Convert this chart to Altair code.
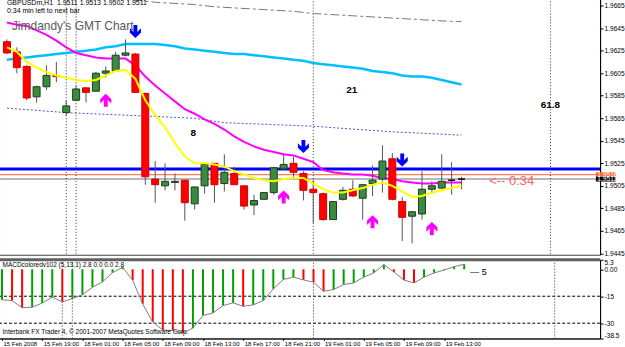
import altair as alt
import pandas as pd

# ---------------- data ----------------
opens  = [1.9633, 1.9624, 1.9611, 1.9584, 1.9593, 1.9603, 1.9570, 1.9581, 1.9592, 1.9589,
          1.9605, 1.9607, 1.9621, 1.9622, 1.9587, 1.9511, 1.9505, 1.9508, 1.9510, 1.9489,
          1.9505, 1.9525, 1.9507, 1.9516, 1.9505, 1.9488, 1.9493, 1.9499, 1.9520, 1.9525,
          1.9516, 1.9502, 1.9498, 1.9475, 1.9493, 1.9502, 1.9494, 1.9507, 1.9511, 1.9529,
          1.9491, 1.9478, 1.9480, 1.9502, 1.9503, 1.9510, 1.9511]
highs  = [1.9635, 1.9628, 1.9612, 1.9594, 1.9612, 1.9615, 1.9581, 1.9594, 1.9592, 1.9606,
          1.9611, 1.9624, 1.9635, 1.9623, 1.9588, 1.9527, 1.9525, 1.9516, 1.9510, 1.9504,
          1.9524, 1.9525, 1.9533, 1.9522, 1.9505, 1.9497, 1.9499, 1.9522, 1.9533, 1.9531,
          1.9518, 1.9510, 1.9499, 1.9491, 1.9504, 1.9510, 1.9506, 1.9523, 1.9541, 1.9534,
          1.9495, 1.9482, 1.9518, 1.9509, 1.9533, 1.9526, 1.9513]
lows   = [1.9622, 1.9605, 1.9581, 1.9579, 1.9590, 1.9597, 1.9567, 1.9581, 1.9579, 1.9589,
          1.9601, 1.9607, 1.9620, 1.9588, 1.9506, 1.9490, 1.9501, 1.9501, 1.9474, 1.9484,
          1.9498, 1.9490, 1.9500, 1.9506, 1.9484, 1.9479, 1.9493, 1.9497, 1.9519, 1.9513,
          1.9492, 1.9472, 1.9474, 1.9475, 1.9492, 1.9495, 1.9475, 1.9496, 1.9499, 1.9492,
          1.9456, 1.9454, 1.9475, 1.9498, 1.9502, 1.9497, 1.9502]
closes = [1.9623, 1.9610, 1.9583, 1.9593, 1.9603, 1.9602, 1.9576, 1.9591, 1.9588, 1.9605,
          1.9607, 1.9621, 1.9623, 1.9588, 1.9513, 1.9506, 1.9509, 1.9509, 1.9490, 1.9504,
          1.9524, 1.9506, 1.9517, 1.9506, 1.9487, 1.9492, 1.9499, 1.9521, 1.9524, 1.9517,
          1.9501, 1.9499, 1.9475, 1.9491, 1.9501, 1.9496, 1.9506, 1.9510, 1.9527, 1.9493,
          1.9477, 1.9482, 1.9502, 1.9505, 1.9509, 1.9510, 1.9511]

ma_cyan = [1.9617, 1.9618, 1.9619, 1.9620, 1.9621, 1.9622, 1.9623, 1.9624, 1.9625, 1.9626,
           1.9628, 1.9629, 1.9631, 1.9631, 1.9631, 1.9631, 1.9630, 1.9629, 1.9627, 1.9626,
           1.9625, 1.9624, 1.9623, 1.9622, 1.9622, 1.9621, 1.9620, 1.9619, 1.9618, 1.9617,
           1.9616, 1.9614, 1.9613, 1.9612, 1.9611, 1.9610, 1.9609, 1.9607, 1.9606, 1.9605,
           1.9603, 1.9602, 1.9602, 1.9601, 1.9599, 1.9597, 1.9595]
ma_magenta = [1.9650, 1.9648, 1.9647, 1.9643, 1.9639, 1.9634, 1.9628, 1.9623, 1.9621, 1.9619,
              1.9618, 1.9618, 1.9618, 1.9612, 1.9602, 1.9594, 1.9587, 1.9580, 1.9573, 1.9569,
              1.9564, 1.9560, 1.9555, 1.9549, 1.9544, 1.9540, 1.9537, 1.9535, 1.9533, 1.9532,
              1.9529, 1.9526, 1.9519, 1.9517, 1.9516, 1.9515, 1.9515, 1.9514, 1.9512, 1.9511,
              1.9509, 1.9508, 1.9507, 1.9507, 1.9508, 1.9508, 1.9508]
ma_yellow = [1.9628, 1.9624, 1.9615, 1.9610, 1.9606, 1.9603, 1.9601, 1.9599, 1.9598, 1.9599,
             1.9603, 1.9607, 1.9608, 1.9600, 1.9581, 1.9568, 1.9557, 1.9543, 1.9531, 1.9525,
             1.9525, 1.9524, 1.9522, 1.9518, 1.9515, 1.9512, 1.9510, 1.9509, 1.9511, 1.9512,
             1.9512, 1.9507, 1.9502, 1.9499, 1.9499, 1.9501, 1.9503, 1.9506, 1.9508, 1.9505,
             1.9500, 1.9495, 1.9496, 1.9499, 1.9501, 1.9503, 1.9505]

dash_idx = [11, 13, 15, 17, 19, 21, 23, 25, 27, 29, 31, 33, 35, 37, 39, 41, 43, 45, 46]
dash_val = [1.9671, 1.9670, 1.9668, 1.9667, 1.9666, 1.9664, 1.9663, 1.9662, 1.9661, 1.9660,
            1.9658, 1.9657, 1.9656, 1.9655, 1.9654, 1.9653, 1.9652, 1.9651, 1.9651]
dot_idx = [0, 6, 14, 19, 22, 31, 34, 39, 46]
dot_val = [1.9574, 1.9570, 1.9567, 1.9565, 1.9561, 1.9558, 1.9556, 1.9553, 1.9550]

macd = [-17.0, -17.4, -21.4, -21.1, -18.8, -15.5, -18.2, -16.3, -14.2, -10.0,
        -7.0, -1.9, 1.1, -6.0, -19.3, -29.4, -33.8, -34.1, -35.5, -32.7,
        -25.7, -24.3, -20.2, -18.7, -20.6, -19.8, -17.4, -10.9, -5.7, -4.4,
        -5.9, -7.2, -12.2, -11.3, -8.5, -7.6, -4.4, -2.0, 2.6, -1.5,
        -6.0, -7.6, -4.4, -2.0, -0.5, 1.5, 2.8]
macd_col = ["g", "r", "r", "g", "g", "g", "r", "g", "g", "g",
            "g", "g", "g", "r", "r", "r", "r", "r", "r", "g",
            "g", "g", "g", "g", "r", "g", "g", "g", "g", "g",
            "r", "r", "r", "g", "g", "g", "g", "g", "g", "r",
            "r", "r", "g", "g", "g", "g", "g"]

x_labels = ["15 Feb 2008", "15 Feb 19:00", "18 Feb 01:00", "18 Feb 05:00", "18 Feb 09:00",
            "18 Feb 13:00", "18 Feb 17:00", "18 Feb 21:00", "19 Feb 01:00", "19 Feb 05:00",
            "19 Feb 09:00", "19 Feb 13:00"]
x_label_idx = [0, 4, 8, 12, 16, 20, 24, 28, 32, 36, 40, 44]
price_ticks = [1.9665, 1.9645, 1.9625, 1.9605, 1.9585, 1.9565, 1.9545, 1.9525, 1.9505,
               1.9485, 1.9465, 1.9445]
macd_ticks = [5.3, 0, -15, -30, -38.5]
macd_tick_labels = ["5.3", "0.00", "-15", "-30", "-38.5"]

blue_arrow_idx = [13, 30, 40]
blue_arrow_price = [1.9642, 1.9540, 1.9528]
pink_arrow_idx = [10, 28, 37, 43]
pink_arrow_price = [1.9581, 1.9495, 1.9473, 1.9467]
vline_idx = [6, 7, 31, 55]

level_blue = 1.9520
level_orange = 1.9515
level_bid = 1.9511

# ---------------- frames ----------------
n = len(opens)
idx = list(range(n))
kind = ["up" if c > o else ("down" if c < o else "doji") for o, c in zip(opens, closes)]
candles = pd.DataFrame({"i": idx, "o": opens, "h": highs, "l": lows, "c": closes, "k": kind})
candles["lo"] = candles[["o", "c"]].min(axis=1)
candles["hi"] = candles[["o", "c"]].max(axis=1)

ma = pd.DataFrame({"i": idx, "cy": ma_cyan, "mg": ma_magenta, "ye": ma_yellow})
dash_df = pd.DataFrame({"i": dash_idx, "v": dash_val})
dot_df = pd.DataFrame({"i": dot_idx, "v": dot_val})
macd_df = pd.DataFrame({"i": idx, "v": macd, "col": macd_col, "zero": [0.0] * n})
vl_df = pd.DataFrame({"i": vline_idx})

XDOM = [-0.3, 59.52]
xs = alt.Scale(domain=XDOM, nice=False, zero=False)
PDOM = [1.94438, 1.96713]
ps = alt.Scale(domain=PDOM, nice=False, zero=False)
MDOM = [-38.5, 5.3]
ms = alt.Scale(domain=MDOM, nice=False, zero=False)
FONT = "Liberation Sans"

PAXIS = alt.Axis(orient="right", values=price_ticks, format=".4f", title=None, tickSize=3,
                 labelPadding=1, labelFontSize=6.6, labelFont=FONT, grid=False,
                 labelOverlap=False)
XAXIS = alt.Axis(values=x_label_idx, labelExpr="%s[round(datum.value/4)]" % str(x_labels),
                 orient="bottom", title=None, tickSize=2, labelPadding=0, labelAlign="left",
                 labelBaseline="top", labelFlush=False, labelOffset=1, labelFontSize=6,
                 labelFont=FONT, grid=False, labelOverlap=False)
MAXIS = alt.Axis(orient="right", values=macd_ticks,
                 labelExpr="datum.value == 5.3 ? '5.3' : datum.value == 0 ? '0.00' : datum.value == -38.5 ? '-38.5' : datum.value == -15 ? '-15' : '-30'",
                 title=None, tickSize=3, labelPadding=1, labelFontSize=6.6, labelFont=FONT,
                 grid=False, labelFlush=True, labelOverlap=False)

X = alt.X("i:Q", scale=xs, axis=None)


def PY(field):
    return alt.Y(field, scale=ps, axis=PAXIS)


def MY(field):
    return alt.Y(field, scale=ms, axis=MAXIS)


# ---------------- price panel ----------------
vlines_top = alt.Chart(vl_df).mark_rule(color="#333333", strokeWidth=1, strokeDash=[1, 2]).encode(x=X)

hl = pd.DataFrame({"v": [level_bid, level_orange, level_blue],
                   "c": ["#a0a0a0", "#ff7f50", "#0000ff"], "w": [1.5, 1.2, 3]})
hlines = alt.Chart(hl).mark_rule().encode(
    y=PY("v:Q"), color=alt.Color("c:N", scale=None),
    strokeWidth=alt.StrokeWidth("w:Q", scale=None))

dash_line = alt.Chart(dash_df).mark_line(color="#777777", strokeWidth=1,
                                         strokeDash=[9, 3, 3, 3]).encode(x=X, y=PY("v:Q"))
dot_line = alt.Chart(dot_df).mark_line(color="#5050c8", strokeWidth=1,
                                       strokeDash=[2, 2]).encode(x=X, y=PY("v:Q"))
cyan = alt.Chart(ma).mark_line(color="#00bfff", strokeWidth=2.5).encode(x=X, y=PY("cy:Q"))
mag = alt.Chart(ma).mark_line(color="#ff00ff", strokeWidth=2).encode(x=X, y=PY("mg:Q"))
yel = alt.Chart(ma).mark_line(color="#ffff00", strokeWidth=2).encode(x=X, y=PY("ye:Q"))

kind_fill = alt.Scale(domain=["up", "down", "doji"], range=["#3a8a40", "#ff0000", "#000000"])
kind_stroke = alt.Scale(domain=["up", "down", "doji"], range=["#1c3d1c", "#d00000", "#000000"])

wicks = alt.Chart(candles).mark_rule(color="#555555", strokeWidth=1).encode(
    x=X, y=PY("l:Q"), y2="h:Q")
bodies = alt.Chart(candles).mark_bar(size=7, orient="vertical", strokeWidth=1, clip=True).encode(
    x=X, y=PY("lo:Q"), y2="hi:Q",
    fill=alt.Fill("k:N", scale=kind_fill, legend=None),
    stroke=alt.Stroke("k:N", scale=kind_stroke, legend=None))

DOWN = "M-0.3,-1L0.3,-1L0.3,0.05L0.85,-0.5L0.85,0.2L0,1L-0.85,0.2L-0.85,-0.5L-0.3,0.05Z"
UP = "M-0.3,1L0.3,1L0.3,-0.05L0.85,0.5L0.85,-0.2L0,-1L-0.85,-0.2L-0.85,0.5L-0.3,-0.05Z"
blue_arr = alt.Chart(pd.DataFrame({"i": blue_arrow_idx, "v": blue_arrow_price})).mark_point(
    shape=DOWN, filled=True, size=170, color="#0000ff", opacity=1).encode(x=X, y=PY("v:Q"))
pink_arr = alt.Chart(pd.DataFrame({"i": pink_arrow_idx, "v": pink_arrow_price})).mark_point(
    shape=UP, filled=True, size=170, color="#ff00ff", opacity=1).encode(x=X, y=PY("v:Q"))


def txt(df, **kw):
    return alt.Chart(df).mark_text(**kw).encode(x=X, y=PY("v:Q"), text="t:N")


hdr = txt(pd.DataFrame({"i": [0, 0], "v": [1.9667, 1.9660],
                        "t": ["GBPUSDm,H1\u00a0\u00a01.9511 1.9513 1.9502 1.9511",
                              "0:34 min left to next bar"]}),
          align="left", baseline="middle", fontSize=7, font=FONT, color="#000000")
title_t = txt(pd.DataFrame({"i": [0.5], "v": [1.9647], "t": ["Jimdandy's GMT Chart"]}),
              align="left", baseline="middle", fontSize=12, font=FONT, color="#5a5a5a")
nums = txt(pd.DataFrame({"i": [34.9, 18.85, 55.0], "v": [1.9590, 1.9552, 1.9577],
                        "t": ["21", "8", "61.8"]}),
           align="center", baseline="middle", fontSize=10, font=FONT, fontWeight="bold",
           color="#000000")
timer = txt(pd.DataFrame({"i": [48.8], "v": [1.9509], "t": ["<-- 0:34"]}),
            align="left", baseline="middle", fontSize=13, font=FONT, color="#ff6060")

boxes_df = pd.DataFrame({"i": [59.6, 59.6], "i2": [61.6, 61.6],
                         "v": [level_orange - 0.00022, level_bid - 0.00022],
                         "v2": [level_orange + 0.00022, level_bid + 0.00022],
                         "c": ["#ff6a30", "#000000"]})
boxes = alt.Chart(boxes_df).mark_rect().encode(
    x=X, x2="i2:Q", y=PY("v:Q"), y2="v2:Q", color=alt.Color("c:N", scale=None))
box_txt = txt(pd.DataFrame({"i": [59.75, 59.75], "v": [level_orange, level_bid],
                            "t": ["1.9516", "1.9511"]}),
              align="left", baseline="middle", fontSize=6.6, font=FONT, color="#ffffff")

top = alt.layer(hlines, vlines_top, dash_line, dot_line, cyan, mag, wicks, bodies, yel,
                blue_arr, pink_arr, hdr, title_t, nums, timer, boxes, box_txt).properties(
    width=603, height=257)

# ---------------- MACD panel ----------------
XB = alt.X("i:Q", scale=xs, axis=XAXIS)

mlev = alt.Chart(pd.DataFrame({"v": [-15, -30]})).mark_rule(
    color="#000000", strokeWidth=1, strokeDash=[3, 2]).encode(y=MY("v:Q"))
vlines_bot = alt.Chart(vl_df).mark_rule(color="#333333", strokeWidth=1, strokeDash=[1, 2]).encode(x=XB)
hist = alt.Chart(macd_df).mark_rule(strokeWidth=2).encode(
    x=XB, y=MY("v:Q"), y2="zero:Q",
    color=alt.Color("col:N", scale=alt.Scale(domain=["g", "r"], range=["#00a000", "#ff0000"]),
                    legend=None))
mline = alt.Chart(macd_df).mark_line(color="#808080", strokeWidth=1).encode(x=XB, y=MY("v:Q"))
sep = alt.Chart(pd.DataFrame({"v": [MDOM[1]]})).mark_rule(
    color="#606060", strokeWidth=3).encode(y=MY("v:Q"))


def mtxt(df, **kw):
    return alt.Chart(df).mark_text(**kw).encode(x=XB, y=MY("v:Q"), text="t:N")


m_lab = mtxt(pd.DataFrame({"i": [0.05], "v": [2.2], "t": ["MACDcoloredv102 (5,13,1) 2.8 0.0 0.0 2.8"]}),
             align="left", baseline="middle", fontSize=6.5, font=FONT, color="#000000")
copy_lab = mtxt(pd.DataFrame({"i": [0.05], "v": [-35.0],
                              "t": ["Interbank FX Trader 4, \u00a9 2001-2007 MetaQuotes Software Corp."]}),
                align="left", baseline="middle", fontSize=6.5, font=FONT, color="#000000")
five_lab = mtxt(pd.DataFrame({"i": [46.6], "v": [-1.3], "t": ["\u2014 5"]}),
                align="left", baseline="middle", fontSize=9, font=FONT, color="#000000")

bottom = alt.layer(mlev, vlines_bot, hist, mline, sep, m_lab, copy_lab, five_lab).properties(
    width=603, height=79)

chart = alt.vconcat(top, bottom, spacing=0, background="#ffffff",
                    padding={"left": -3, "top": -5, "right": 0, "bottom": 0}).configure_view(
    stroke="#404040", strokeWidth=1).configure_axis(
    domainColor="#000000", tickColor="#000000", labelColor="#000000", labelOverlap=False)

chart.save("out.html", embed_options={"renderer": "svg", "actions": False})
